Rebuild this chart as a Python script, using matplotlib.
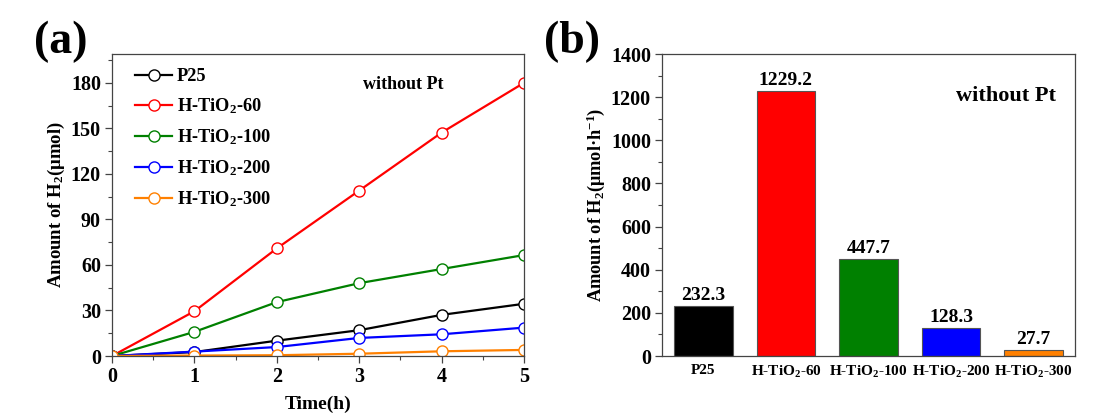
import numpy as np
import matplotlib
matplotlib.use('Agg')
import matplotlib.pyplot as plt
from matplotlib.ticker import MultipleLocator

plt.rcParams['font.family'] = ['Liberation Serif', 'DejaVu Serif']
plt.rcParams['font.weight'] = 'bold'
plt.rcParams['mathtext.fontset'] = 'custom'
plt.rcParams['mathtext.rm'] = 'Liberation Serif:bold'
plt.rcParams['mathtext.it'] = 'Liberation Serif:bold:italic'
plt.rcParams['mathtext.bf'] = 'Liberation Serif:bold'
plt.rcParams['mathtext.default'] = 'rm'

# (a) time course of H2 evolution
time_h = [0, 1, 2, 3, 4, 5]
p25 = [0, 2.6, 10.1, 17.0, 27.1, 34.4]
h60 = [0, 29.5, 70.9, 109.0, 147.2, 180.0]
h100 = [0, 15.9, 35.5, 48.0, 57.3, 66.5]
h200 = [0, 2.9, 5.9, 11.9, 14.3, 18.7]
h300 = [0, 0.3, 0.5, 1.5, 3.1, 4.0]

series_labels = ['P25', 'H-TiO$_2$-60', 'H-TiO$_2$-100', 'H-TiO$_2$-200', 'H-TiO$_2$-300']
series_colors = ['black', '#ff0000', '#008000', '#0000ff', '#ff8000']

# (b) H2 evolution rate
samples = ['P25', 'H-TiO$_2$-60', 'H-TiO$_2$-100', 'H-TiO$_2$-200', 'H-TiO$_2$-300']
rates = [232.3, 1229.2, 447.7, 128.3, 27.7]

fig = plt.figure(figsize=(11.02, 4.16), dpi=100)
ax1 = fig.add_axes([112 / 1102, 60 / 416, 412 / 1102, 302 / 416])
ax2 = fig.add_axes([662 / 1102, 60 / 416, 413 / 1102, 302 / 416])

# ---- panel (a)
for y, lab, c in zip([p25, h60, h100, h200, h300], series_labels, series_colors):
    ax1.plot(time_h, y, '-o', color=c, lw=1.6, ms=8, mfc='white', mec=c,
             mew=1.0, label=lab)
ax1.set_xlim(0, 5)
ax1.set_ylim(0, 199)
ax1.xaxis.set_major_locator(MultipleLocator(1))
ax1.xaxis.set_minor_locator(MultipleLocator(0.5))
ax1.yaxis.set_major_locator(MultipleLocator(30))
ax1.yaxis.set_minor_locator(MultipleLocator(15))
ax1.set_xlabel('Time(h)', fontsize=14, fontweight='bold', labelpad=6)
ax1.set_ylabel('Amount of H$_2$(μmol)', fontsize=13.5, fontweight='bold', labelpad=3)
ax1.legend(loc='upper left', frameon=False, fontsize=13.2, handlelength=2.0,
           handletextpad=0.25, labelspacing=0.62, borderaxespad=0.2,
           bbox_to_anchor=(0.03, 0.99))
ax1.text(0.61, 0.9, 'without Pt', transform=ax1.transAxes, fontsize=13,
         fontweight='bold', ha='left', va='center')

# ---- panel (b)
x = np.arange(len(samples))
ax2.bar(x, rates, width=0.71, color=series_colors, edgecolor='#555555', linewidth=0.8)
for xi, v in zip(x, rates):
    ax2.annotate('%.1f' % v, (xi, v), xytext=(0, 1.5), textcoords='offset points',
                 ha='center', va='bottom', fontsize=14, fontweight='bold')
ax2.set_xlim(-0.5, 4.5)
ax2.set_ylim(0, 1400)
ax2.set_xticks(x)
ax2.set_xticklabels(samples)
ax2.yaxis.set_major_locator(MultipleLocator(200))
ax2.yaxis.set_minor_locator(MultipleLocator(100))
ax2.set_ylabel('Amount of H$_2$(μmol·h$^{-1}$)', fontsize=13.2, fontweight='bold', labelpad=3)
ax2.text(0.955, 0.86, 'without Pt', transform=ax2.transAxes, fontsize=16,
         fontweight='bold', ha='right', va='center')

for ax in (ax1, ax2):
    for s in ax.spines.values():
        s.set_color('#444444')
        s.set_linewidth(0.9)
    ax.tick_params(which='both', direction='out', top=False, right=False,
                   color='#444444')
    ax.tick_params(which='major', length=5, width=0.9, labelsize=14.5, pad=3)
    ax.tick_params(which='minor', length=3, width=0.8)
ax2.tick_params(axis='x', which='major', length=0, labelsize=11, pad=6)
ax2.tick_params(axis='x', which='minor', length=0)

fig.text(61 / 1102, 1 - 42 / 416, '(a)', fontsize=33, fontweight='bold',
         ha='center', va='center')
fig.text(572 / 1102, 1 - 42 / 416, '(b)', fontsize=33, fontweight='bold',
         ha='center', va='center')

fig.savefig('out.png', dpi=100)
